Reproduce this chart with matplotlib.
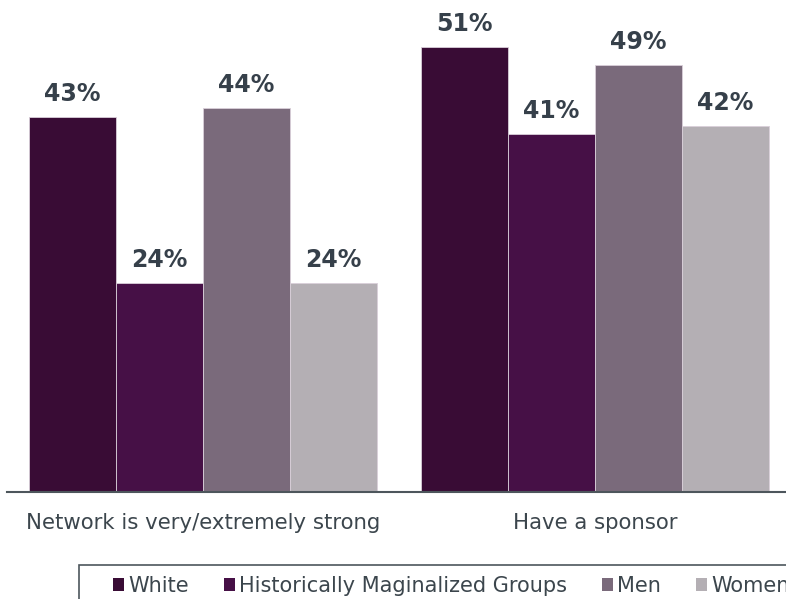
import numpy as np
import matplotlib
matplotlib.use("Agg")
import matplotlib.pyplot as plt
from matplotlib.patches import Patch, Rectangle

plt.rcParams["font.family"] = ["DejaVu Sans"]

categories = ["Network is very/extremely strong", "Have a sponsor"]
groups = ["White", "Historically Maginalized Groups", "Men", "Women"]
white = [43, 51]
marginalized = [24, 41]
men = [44, 49]
women = [24, 42]

colors = ["#390c35", "#461046", "#7a6a7b", "#b4afb4"]
text_col = "#36404a"

fig = plt.figure(figsize=(7.86, 5.99), dpi=100)
ax = fig.add_axes([7 / 786, 107 / 599, 784 / 786, 492 / 599])

x = np.arange(len(categories))
w = 0.222
series = [white, marginalized, men, women]
for i, vals in enumerate(series):
    pos = x + (i - 1.5) * w
    bars = ax.bar(pos, vals, width=w, color=colors[i], edgecolor="#d9cfd9", linewidth=0.6)
    for b, v in zip(bars, vals):
        ax.annotate(f"{v}%", (b.get_x() + b.get_width() / 2, v), xytext=(0, 11),
                    textcoords="offset pixels", ha="center", va="bottom",
                    fontsize=17, fontweight="bold", color=text_col, annotation_clip=False)

ax.set_xlim(-0.5, 1.5)
ax.set_ylim(0, 492 / 8.72)
for s in ["top", "right", "left"]:
    ax.spines[s].set_visible(False)
ax.spines["bottom"].set_color("#4d565c")
ax.spines["bottom"].set_linewidth(1.5)
ax.set_yticks([])
ax.set_xticks(x)
ax.set_xticklabels(categories, fontsize=15.3, color="#3c464d")
ax.tick_params(axis="x", length=0, pad=15)

# legend box runs off the right and bottom edges
fig.patches.append(Rectangle((79 / 786, -0.1), 1.0, 0.1 + (599 - 565) / 599,
                             transform=fig.transFigure, fill=False,
                             edgecolor="#4d565c", linewidth=1.2))
handles = [Patch(facecolor=c, edgecolor="none") for c in colors]
fig.legend(handles, groups, loc="center left", bbox_to_anchor=(113 / 786, 1 - 586 / 599),
           ncol=4, frameon=False, fontsize=15, borderaxespad=0, borderpad=0,
           handlelength=0.53, handleheight=0.53, handletextpad=0.2, columnspacing=1.68,
           labelcolor="#3c464d")

fig.savefig("out.png", dpi=100)
